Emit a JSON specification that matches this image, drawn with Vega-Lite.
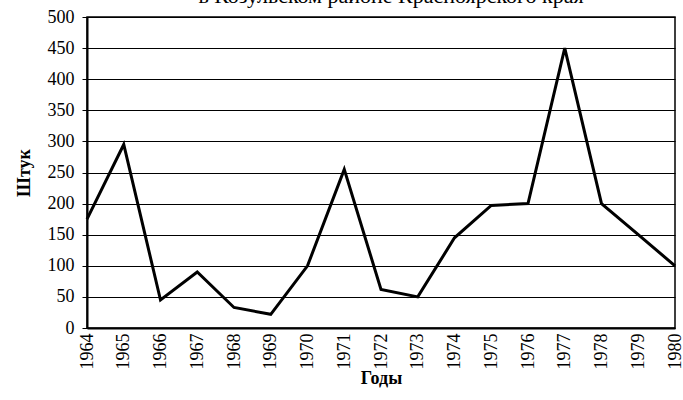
{
  "$schema": "https://vega.github.io/schema/vega-lite/v6.json",
  "width": 588,
  "height": 311,
  "autosize": {"type": "none"},
  "padding": {"left": 87, "top": 17, "right": 8, "bottom": 72},
  "background": "white",
  "title": {
    "text": "в Козульском районе Красноярского края",
    "font": "Liberation Serif",
    "fontSize": 22,
    "fontWeight": "normal",
    "color": "black",
    "anchor": "middle",
    "frame": "group",
    "baseline": "alphabetic",
    "offset": 9,
    "dx": 10,
    "dy": 26
  },
  "config": {
    "view": {"stroke": "black", "strokeWidth": 1.5},
    "font": "Liberation Serif",
    "axis": {"labelFont": "Liberation Serif", "titleFont": "Liberation Serif"}
  },
  "data": {
    "values": [
      {"year": "1964", "count": 175},
      {"year": "1965", "count": 295},
      {"year": "1966", "count": 45},
      {"year": "1967", "count": 90},
      {"year": "1968", "count": 33},
      {"year": "1969", "count": 22},
      {"year": "1970", "count": 100},
      {"year": "1971", "count": 255},
      {"year": "1972", "count": 62},
      {"year": "1973", "count": 50},
      {"year": "1974", "count": 145},
      {"year": "1975", "count": 197},
      {"year": "1976", "count": 200},
      {"year": "1977", "count": 450},
      {"year": "1978", "count": 200},
      {"year": "1979", "count": 150},
      {"year": "1980", "count": 100}
    ]
  },
  "mark": {"type": "line", "color": "black", "strokeWidth": 3, "strokeJoin": "miter"},
  "encoding": {
    "x": {
      "field": "year",
      "type": "ordinal",
      "scale": {"type": "point", "padding": 0},
      "axis": {
        "title": "Годы",
        "titleFont": "Liberation Serif",
        "titleFontSize": 18,
        "titleFontWeight": "bold",
        "titleColor": "black",
        "titlePadding": 0,
        "labelAngle": -90,
        "labelFont": "Liberation Serif",
        "labelFontSize": 18,
        "labelColor": "black",
        "labelPadding": 5,
        "labelOverlap": false,
        "labelBound": false,
        "ticks": false,
        "domain": true,
        "domainColor": "black",
        "domainWidth": 2,
        "grid": false
      }
    },
    "y": {
      "field": "count",
      "type": "quantitative",
      "scale": {"domain": [0, 500]},
      "axis": {
        "title": "Штук",
        "titleFont": "Liberation Serif",
        "titleFontSize": 18,
        "titleFontWeight": "bold",
        "titleColor": "black",
        "titlePadding": 14,
        "values": [0, 50, 100, 150, 200, 250, 300, 350, 400, 450, 500],
        "labelFont": "Liberation Serif",
        "labelFontSize": 18,
        "labelColor": "black",
        "labelPadding": 8,
        "tickSize": 5,
        "tickColor": "black",
        "grid": true,
        "gridColor": "black",
        "gridWidth": 1,
        "gridOpacity": 1,
        "domain": true,
        "domainColor": "black",
        "domainWidth": 2
      }
    }
  }
}
